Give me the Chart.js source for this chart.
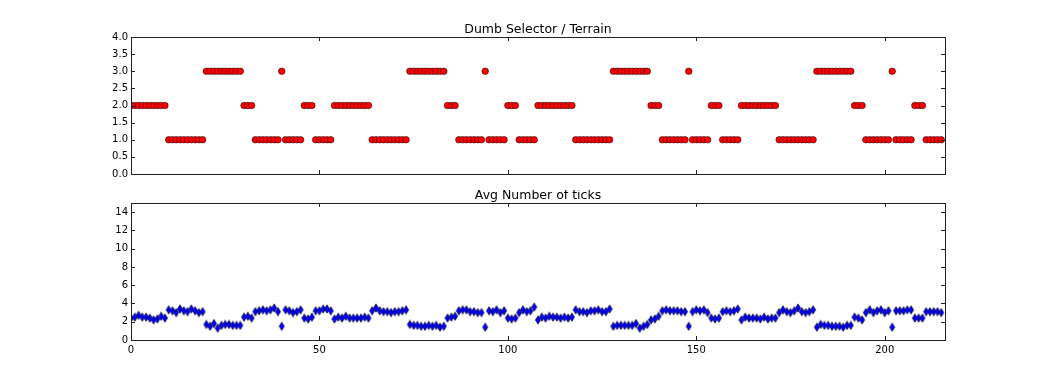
<!DOCTYPE html>
<html>
<head>
<meta charset="utf-8">
<script src="https://cdn.jsdelivr.net/npm/chart.js@4.4.1/dist/chart.umd.min.js"></script>
<style>
  body { margin: 0; background: #fff; }
  #wrap { position: relative; width: 1050px; height: 378px; background: #fff; }
  .box { position: absolute; left: 0; width: 1050px; }
</style>
</head>
<body>
<div id="wrap">
  <div class="box" style="top:0;height:190px"><canvas id="terrainChart"></canvas></div>
  <div class="box" style="top:190px;height:188px"><canvas id="ticksChart"></canvas></div>
</div>
<script>
// terrain chosen by the dumb selector, one value per step
const terrain = [
  2, 2, 2, 2, 2, 2, 2, 2, 2, 2, 1, 1, 1, 1, 1, 1, 1, 1, 1, 1, 3, 3, 3, 3, 3, 3, 3, 3, 3, 3,
  2, 2, 2, 1, 1, 1, 1, 1, 1, 1, 3, 1, 1, 1, 1, 1, 2, 2, 2, 1, 1, 1, 1, 1,
  2, 2, 2, 2, 2, 2, 2, 2, 2, 2, 1, 1, 1, 1, 1, 1, 1, 1, 1, 1, 3, 3, 3, 3, 3, 3, 3, 3, 3, 3,
  2, 2, 2, 1, 1, 1, 1, 1, 1, 1, 3, 1, 1, 1, 1, 1, 2, 2, 2, 1, 1, 1, 1, 1,
  2, 2, 2, 2, 2, 2, 2, 2, 2, 2, 1, 1, 1, 1, 1, 1, 1, 1, 1, 1, 3, 3, 3, 3, 3, 3, 3, 3, 3, 3,
  2, 2, 2, 1, 1, 1, 1, 1, 1, 1, 3, 1, 1, 1, 1, 1, 2, 2, 2, 1, 1, 1, 1, 1,
  2, 2, 2, 2, 2, 2, 2, 2, 2, 2, 1, 1, 1, 1, 1, 1, 1, 1, 1, 1, 3, 3, 3, 3, 3, 3, 3, 3, 3, 3,
  2, 2, 2, 1, 1, 1, 1, 1, 1, 1, 3, 1, 1, 1, 1, 1, 2, 2, 2, 1, 1, 1, 1, 1
];

// average number of ticks, same steps
const avgTicks = [
  2.4, 2.5, 2.7, 2.5, 2.5, 2.4, 2.2, 2.3, 2.6, 2.4,
  3.3, 3.2, 3.0, 3.4, 3.2, 3.1, 3.4, 3.2, 3.0, 3.1,
  1.7, 1.5, 1.8, 1.3, 1.6, 1.7, 1.7, 1.6, 1.6, 1.6,
  2.5, 2.6, 2.4, 3.1, 3.2, 3.3, 3.2, 3.3, 3.5, 3.1,
  1.5, 3.3, 3.2, 3.0, 3.1, 3.3, 2.4, 2.3, 2.5, 3.2, 3.2, 3.4, 3.4, 3.2,
  2.3, 2.5, 2.4, 2.6, 2.4, 2.4, 2.4, 2.4, 2.5, 2.4,
  3.2, 3.5, 3.2, 3.1, 3.1, 3.0, 3.1, 3.1, 3.2, 3.3,
  1.7, 1.6, 1.6, 1.5, 1.5, 1.6, 1.5, 1.6, 1.4, 1.5,
  2.4, 2.5, 2.6, 3.2, 3.3, 3.3, 3.1, 3.1, 3.0, 3.0,
  1.4, 3.2, 3.1, 3.3, 3.0, 3.2, 2.4, 2.3, 2.4, 3.0, 3.3, 3.1, 3.2, 3.6,
  2.2, 2.5, 2.4, 2.6, 2.5, 2.5, 2.4, 2.5, 2.4, 2.5,
  3.3, 3.1, 3.1, 3.0, 3.2, 3.2, 3.3, 3.1, 3.1, 3.4,
  1.5, 1.6, 1.6, 1.6, 1.6, 1.6, 1.8, 1.3, 1.5, 1.7,
  2.2, 2.3, 2.6, 3.2, 3.3, 3.2, 3.2, 3.2, 3.1, 3.1,
  1.5, 3.1, 3.3, 3.2, 3.3, 3.0, 2.4, 2.3, 2.4, 3.1, 3.2, 3.1, 3.2, 3.4,
  2.2, 2.5, 2.4, 2.4, 2.4, 2.3, 2.5, 2.3, 2.4, 2.4,
  3.0, 3.3, 3.1, 3.0, 3.2, 3.5, 3.1, 3.0, 3.1, 3.3,
  1.4, 1.7, 1.6, 1.6, 1.5, 1.5, 1.5, 1.4, 1.6, 1.6,
  2.5, 2.4, 2.2, 3.0, 3.3, 3.0, 3.2, 3.3, 3.0, 3.2,
  1.4, 3.2, 3.2, 3.2, 3.3, 3.3, 2.4, 2.4, 2.4, 3.1, 3.1, 3.1, 3.1, 3.0
];

const xMax = 216;
const xTicks = [0, 50, 100, 150, 200];
const terrainTicks = [0, 0.5, 1, 1.5, 2, 2.5, 3, 3.5, 4];
const avgTickTicks = [0, 2, 4, 6, 8, 10, 12, 14];

const FONT = 'DejaVu Sans';

// thin diamond marker like matplotlib 'd'
function thinDiamond(color) {
  const c = document.createElement('canvas');
  c.width = 8;
  c.height = 10;
  const ctx = c.getContext('2d');
  ctx.beginPath();
  ctx.moveTo(4, 0.8);
  ctx.lineTo(6.6, 5);
  ctx.lineTo(4, 9.2);
  ctx.lineTo(1.4, 5);
  ctx.closePath();
  ctx.fillStyle = color;
  ctx.fill();
  ctx.lineWidth = 0.6;
  ctx.strokeStyle = '#000';
  ctx.stroke();
  return c;
}

// frame, inward ticks on all four sides, and the title
const framePlugin = {
  id: 'frame',
  afterDraw(chart, args, opts) {
    const ctx = chart.ctx;
    const a = chart.chartArea;
    const xs = chart.scales.x;
    const ys = chart.scales.y;
    ctx.save();
    ctx.strokeStyle = '#222';
    ctx.lineWidth = 1;
    ctx.beginPath();
    xTicks.forEach(function (v) {
      const px = Math.round(xs.getPixelForValue(v)) + 0.5;
      ctx.moveTo(px, a.bottom);
      ctx.lineTo(px, a.bottom - 4);
      ctx.moveTo(px, a.top);
      ctx.lineTo(px, a.top + 4);
    });
    opts.yTicks.forEach(function (v) {
      const py = Math.round(ys.getPixelForValue(v)) + 0.5;
      ctx.moveTo(a.left, py);
      ctx.lineTo(a.left + 4, py);
      ctx.moveTo(a.right, py);
      ctx.lineTo(a.right - 4, py);
    });
    ctx.stroke();
    ctx.strokeRect(Math.round(a.left) + 0.5, Math.round(a.top) + 0.5,
      Math.round(a.right - a.left), Math.round(a.bottom - a.top));
    ctx.fillStyle = '#000';
    ctx.font = '12.5px "' + FONT + '"';
    ctx.textAlign = 'center';
    ctx.textBaseline = 'alphabetic';
    ctx.fillText(opts.title, (a.left + a.right) / 2, a.top - 4);
    ctx.restore();
  }
};

function makeChart(id, values, opts) {
  const points = values.map(function (v, i) { return { x: i, y: v }; });
  return new Chart(document.getElementById(id), {
    type: 'scatter',
    data: {
      datasets: [{
        data: points,
        pointStyle: opts.pointStyle,
        pointRadius: opts.pointRadius,
        backgroundColor: opts.color,
        borderColor: '#000',
        borderWidth: 0.5,
        clip: 0
      }]
    },
    options: {
      responsive: true,
      maintainAspectRatio: false,
      animation: false,
      layout: { padding: { left: 0, right: 105, top: opts.top, bottom: 0 } },
      scales: {
        x: {
          type: 'linear',
          min: 0,
          max: xMax,
          grid: { display: false, drawTicks: false },
          border: { display: false },
          afterBuildTicks: function (s) {
            s.ticks = xTicks.map(function (v) { return { value: v }; });
          },
          afterFit: function (s) { s.height = opts.xHeight; },
          ticks: {
            display: opts.showX,
            padding: 4,
            color: '#000',
            font: { family: FONT, size: 10 }
          }
        },
        y: {
          min: 0,
          max: opts.yMax,
          grid: { display: false, drawTicks: false },
          border: { display: false },
          afterBuildTicks: function (s) {
            s.ticks = opts.yTicks.map(function (v) { return { value: v }; });
          },
          afterFit: function (s) { s.width = 131; },
          ticks: {
            padding: 3,
            color: '#000',
            font: { family: FONT, size: 10 },
            callback: opts.yFormat
          }
        }
      },
      plugins: {
        legend: { display: false },
        tooltip: { enabled: false },
        frame: { title: opts.title, yTicks: opts.yTicks }
      }
    },
    plugins: [framePlugin]
  });
}

makeChart('terrainChart', terrain, {
  title: 'Dumb Selector / Terrain',
  pointStyle: 'circle',
  pointRadius: 3.3,
  color: '#ff0000',
  yMax: 4,
  yTicks: terrainTicks,
  yFormat: function (v) { return v.toFixed(1); },
  top: 37,
  xHeight: 16,
  showX: false
});

makeChart('ticksChart', avgTicks, {
  title: 'Avg Number of ticks',
  pointStyle: thinDiamond('#0000ff'),
  pointRadius: 4,
  color: '#0000ff',
  yMax: 15,
  yTicks: avgTickTicks,
  yFormat: function (v) { return String(v); },
  top: 13,
  xHeight: 38,
  showX: true
});
</script>
</body>
</html>
